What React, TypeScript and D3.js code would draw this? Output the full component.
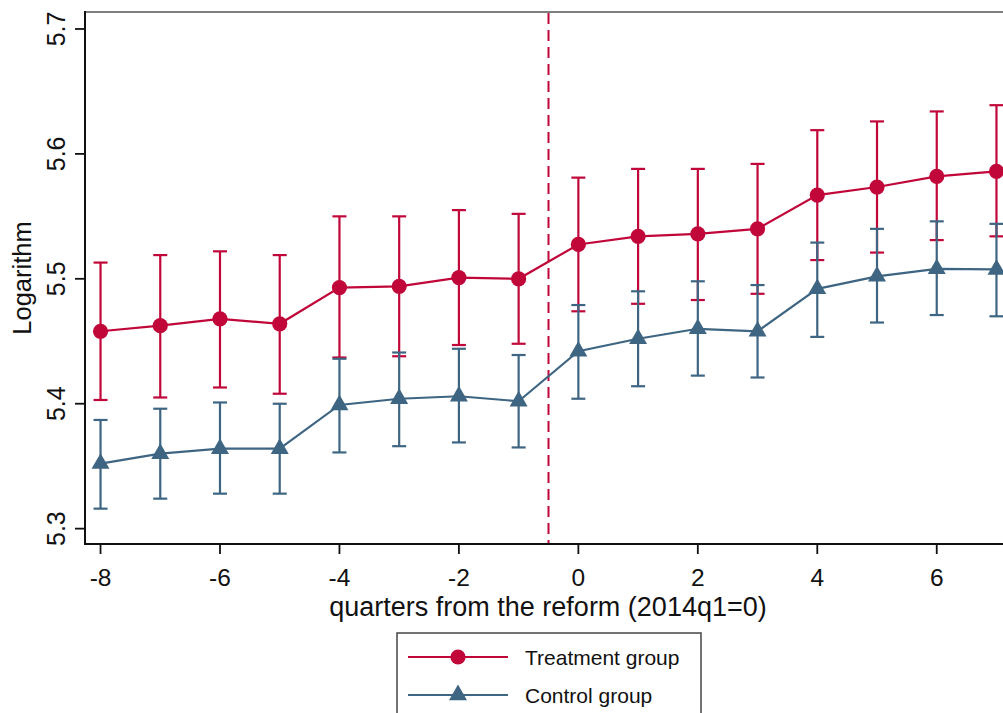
import React from "react";
import * as d3 from "d3";

const quarters = [-8, -7, -6, -5, -4, -3, -2, -1, 0, 1, 2, 3, 4, 5, 6, 7];
const treatMean = [5.458, 5.4625, 5.468, 5.464, 5.493, 5.494, 5.501, 5.500, 5.5275, 5.534, 5.536, 5.540, 5.567, 5.5735, 5.582, 5.586];
const treatHigh = [5.513, 5.519, 5.522, 5.519, 5.550, 5.550, 5.555, 5.552, 5.581, 5.588, 5.588, 5.592, 5.619, 5.626, 5.634, 5.639];
const treatLow = [5.403, 5.405, 5.413, 5.408, 5.437, 5.438, 5.447, 5.448, 5.474, 5.480, 5.483, 5.488, 5.515, 5.521, 5.531, 5.534];
const ctrlMean = [5.352, 5.360, 5.364, 5.364, 5.399, 5.404, 5.406, 5.402, 5.442, 5.452, 5.460, 5.458, 5.492, 5.502, 5.508, 5.5075];
const ctrlHigh = [5.387, 5.396, 5.401, 5.400, 5.436, 5.441, 5.444, 5.439, 5.479, 5.490, 5.498, 5.495, 5.529, 5.540, 5.546, 5.544];
const ctrlLow = [5.316, 5.324, 5.328, 5.328, 5.361, 5.366, 5.369, 5.365, 5.404, 5.414, 5.4225, 5.421, 5.4535, 5.465, 5.471, 5.470];
const xTicks = [-8, -6, -4, -2, 0, 2, 4, 6];
const yTicks = [5.3, 5.4, 5.5, 5.6, 5.7];
const reformLine = -0.5;
const seriesNames = ["Treatment group", "Control group"];
const xTitle = "quarters from the reform (2014q1=0)";
const yTitle = "Logarithm";

const RED = "#c1073a";
const BLUE = "#3e6582";
const FONT = "'Liberation Sans', Arial, sans-serif";

export default function App() {
  const W = 1003, H = 713;
  const left = 85, top = 12, bottom = 544, right = 1012;
  const x = d3.scaleLinear().domain([-8.26, 7.26]).range([left, right]);
  const y = d3.scaleLinear().domain([5.2877, 5.7136]).range([bottom, top]);
  const line = d3.line<number>().x((_, i) => x(quarters[i])).y((d) => y(d));
  const tri = d3.symbol(d3.symbolTriangle, 140)() as string;
  const capW = 7;

  const errBars = (lo: number[], hi: number[], color: string, key: string) =>
    quarters.map((q, i) => (
      <g key={key + i} stroke={color} strokeWidth={2.2} fill="none">
        <line x1={x(q)} x2={x(q)} y1={y(lo[i])} y2={y(hi[i])} />
        <line x1={x(q) - capW} x2={x(q) + capW} y1={y(lo[i])} y2={y(lo[i])} />
        <line x1={x(q) - capW} x2={x(q) + capW} y1={y(hi[i])} y2={y(hi[i])} />
      </g>
    ));

  return (
    <svg width={W} height={H} style={{ position: "absolute", left: 0, top: 0, background: "#fff" }} fontFamily={FONT}>
      <rect x={0} y={0} width={W} height={H} fill="#fff" />
      <line x1={left} x2={W + 10} y1={top} y2={top} stroke="#555" strokeWidth={1.6} />
      <line x1={x(reformLine)} x2={x(reformLine)} y1={top + 1} y2={bottom} stroke={RED} strokeWidth={2} strokeDasharray="11,6" />
      {errBars(treatLow, treatHigh, RED, "te")}
      {errBars(ctrlLow, ctrlHigh, BLUE, "ce")}
      <path d={line(treatMean) as string} fill="none" stroke={RED} strokeWidth={2.2} />
      {quarters.map((q, i) => (
        <circle key={"tp" + i} cx={x(q)} cy={y(treatMean[i])} r={7.6} fill={RED} />
      ))}
      <path d={line(ctrlMean) as string} fill="none" stroke={BLUE} strokeWidth={2.2} />
      {quarters.map((q, i) => (
        <path key={"cp" + i} d={tri} transform={`translate(${x(q)},${y(ctrlMean[i])})`} fill={BLUE} />
      ))}
      <line x1={left} x2={left} y1={top - 1} y2={bottom + 1} stroke="#111" strokeWidth={2} />
      <line x1={left - 1} x2={W + 10} y1={bottom} y2={bottom} stroke="#111" strokeWidth={2} />
      {yTicks.map((t) => (
        <g key={"yt" + t}>
          <line x1={left - 10} x2={left} y1={y(t)} y2={y(t)} stroke="#111" strokeWidth={1.8} />
          <text transform={`translate(65,${y(t)}) rotate(-90)`} textAnchor="middle" fontSize={25} fill="#111">
            {d3.format(".1f")(t)}
          </text>
        </g>
      ))}
      {xTicks.map((t) => (
        <g key={"xt" + t}>
          <line x1={x(t)} x2={x(t)} y1={bottom} y2={bottom + 10} stroke="#111" strokeWidth={1.8} />
          <text x={x(t)} y={585.5} textAnchor="middle" fontSize={24.5} fill="#111">
            {t}
          </text>
        </g>
      ))}
      <text x={548} y={615.5} textAnchor="middle" fontSize={27} fill="#111">
        {xTitle}
      </text>
      <text transform={`translate(31,${(top + bottom) / 2}) rotate(-90)`} textAnchor="middle" fontSize={25.5} fill="#111">
        {yTitle}
      </text>
      <rect x={397} y={633} width={304} height={100} fill="#fff" stroke="#444" strokeWidth={1.5} />
      <line x1={408} x2={508} y1={657} y2={657} stroke={RED} strokeWidth={2.2} />
      <circle cx={458} cy={657} r={7.6} fill={RED} />
      <text x={525} y={665} fontSize={21} fill="#111">{seriesNames[0]}</text>
      <line x1={408} x2={508} y1={695} y2={695} stroke={BLUE} strokeWidth={2.2} />
      <path d={tri} transform="translate(458,695)" fill={BLUE} />
      <text x={525} y={703} fontSize={21} fill="#111">{seriesNames[1]}</text>
    </svg>
  );
}
